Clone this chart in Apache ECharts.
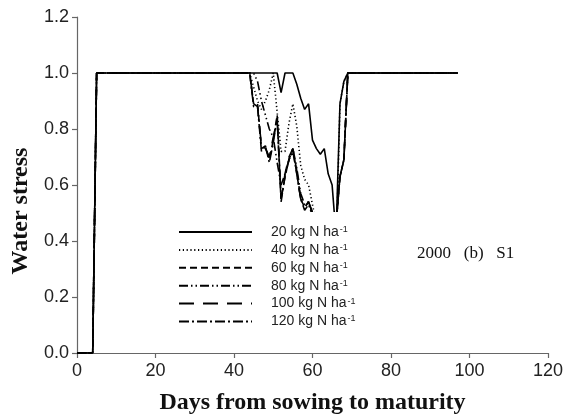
<!DOCTYPE html>
<html>
<head>
<meta charset="utf-8">
<script src="https://cdn.jsdelivr.net/npm/echarts@6/dist/echarts.min.js"></script>
<style>
  html, body { margin: 0; padding: 0; background: #fff; }
  #chart { width: 566px; height: 420px; }
</style>
</head>
<body>
<div id="chart"></div>
<script>
// Days at which values were read (key points of each curve)
const days = [0, 4, 5, 44, 45, 46, 47, 48, 49, 50, 51, 52, 53, 54, 55, 56, 57, 58, 59, 60, 61, 62, 63, 64, 65, 66, 67, 68, 69, 97];

const seriesNames = ['20 kg N ha', '40 kg N ha', '60 kg N ha', '80 kg N ha', '100 kg N ha', '120 kg N ha'];

const n20  = [0, 0, 1, 1, 1, 1, 1, 1, 1, 1, 1, 0.93, 1, 1, 1, 0.96, 0.91, 0.87, 0.89, 0.76, 0.73, 0.71, 0.73, 0.64, 0.60, 0.42, 0.89, 0.97, 1, 1];
const n40  = [0, 0, 1, 1, 0.95, 0.90, 0.87, 0.90, 0.94, 1, 0.86, 0.72, 0.72, 0.82, 0.89, 0.81, 0.67, 0.62, 0.60, 0.53, 0.46, 0.44, 0.42, 0.40, 0.38, 0.35, 0.89, 0.97, 1, 1];
const n60  = [0, 0, 1, 1, 0.89, 0.89, 0.73, 0.74, 0.69, 0.76, 0.85, 0.55, 0.63, 0.69, 0.73, 0.64, 0.55, 0.52, 0.54, 0.50, 0.45, 0.42, 0.40, 0.38, 0.40, 0.46, 0.63, 0.69, 1, 1];
const n80  = [0, 0, 1, 1, 1, 0.97, 0.90, 0.85, 0.80, 0.77, 0.68, 0.60, 0.64, 0.69, 0.73, 0.66, 0.57, 0.53, 0.54, 0.50, 0.45, 0.42, 0.40, 0.38, 0.40, 0.46, 0.63, 0.69, 1, 1];
const n100 = [0, 0, 1, 1, 0.89, 0.88, 0.74, 0.73, 0.70, 0.77, 0.83, 0.55, 0.64, 0.70, 0.73, 0.65, 0.55, 0.52, 0.54, 0.50, 0.45, 0.42, 0.40, 0.38, 0.40, 0.46, 0.63, 0.69, 1, 1];
const n120 = [0, 0, 1, 1, 0.88, 0.88, 0.72, 0.74, 0.68, 0.75, 0.84, 0.54, 0.63, 0.69, 0.72, 0.64, 0.55, 0.51, 0.53, 0.49, 0.45, 0.42, 0.40, 0.38, 0.40, 0.46, 0.63, 0.69, 1, 1];

const xTicks = { min: 0, max: 120, interval: 20 };
const yTicks = { min: 0, max: 1.2, interval: 0.2 };

const values = [n20, n40, n60, n80, n100, n120];
const dashTypes = ['solid', [1.2, 2.6], [7, 4], [9, 3, 1.5, 3, 1.5, 3], [15, 9], [10, 3, 2, 3]];

const chart = echarts.init(document.getElementById('chart'), null, { renderer: 'canvas' });

const series = seriesNames.map((name, i) => ({
  name: name,
  type: 'line',
  symbol: 'none',
  animation: false,
  data: days.map((d, k) => [d, values[i][k]]),
  lineStyle: { color: '#000', width: 1.6, type: dashTypes[i] },
  itemStyle: { color: '#000' },
  z: 2
}));

const axisGray = '#666';
chart.setOption({
  animation: false,
  backgroundColor: '#fff',
  grid: { left: 77, right: 16, top: 17, bottom: 62.5, containLabel: false },
  xAxis: {
    type: 'value', min: xTicks.min, max: xTicks.max, interval: xTicks.interval,
    name: 'Days from sowing to maturity', nameLocation: 'middle', nameGap: 38,
    nameTextStyle: { fontFamily: 'Liberation Serif', fontWeight: 'bold', fontSize: 24, color: '#111' },
    axisLine: { show: true, onZero: false, lineStyle: { color: axisGray, width: 1.2 } },
    axisTick: { show: true, inside: false, length: 5, lineStyle: { color: axisGray, width: 1.2 } },
    axisLabel: { fontFamily: 'Liberation Sans', fontSize: 18, color: '#222', margin: 9 },
    splitLine: { show: false }
  },
  yAxis: {
    type: 'value', min: yTicks.min, max: yTicks.max, interval: yTicks.interval,
    name: 'Water stress', nameLocation: 'middle', nameGap: 43,
    nameTextStyle: { fontFamily: 'Liberation Serif', fontWeight: 'bold', fontSize: 24, color: '#111', padding: [0, 52, 0, 0] },
    axisLine: { show: true, lineStyle: { color: axisGray, width: 1.2 } },
    axisTick: { show: true, inside: false, length: 5, lineStyle: { color: axisGray, width: 1.2 } },
    axisLabel: { fontFamily: 'Liberation Sans', fontSize: 18, color: '#222', margin: 8, formatter: v => v.toFixed(1) },
    splitLine: { show: false }
  },
  legend: {
    orient: 'vertical',
    left: 165, top: 212,
    padding: [13, 12, 10, 13],
    backgroundColor: '#fff',
    itemWidth: 73, itemHeight: 14, itemGap: 3.9,
    itemStyle: { opacity: 0, borderWidth: 0 },
    z: 4,
    data: seriesNames,
    formatter: name => '{t|' + name + '}{s|-1}',
    textStyle: {
      rich: {
        t: { fontFamily: 'Liberation Sans', fontSize: 14, color: '#222', lineHeight: 14, padding: [0, 0, 0, 14] },
        s: { fontFamily: 'Liberation Sans', fontSize: 9, color: '#222', lineHeight: 9, verticalAlign: 'top', padding: [0, 0, 0, 1] }
      }
    }
  },
  graphic: [{
    type: 'text', left: 417, top: 245, z: 10,
    style: { text: '2000   (b)   S1', font: '17px "Liberation Serif"', fill: '#111' }
  }],
  series: series
});
</script>
</body>
</html>
